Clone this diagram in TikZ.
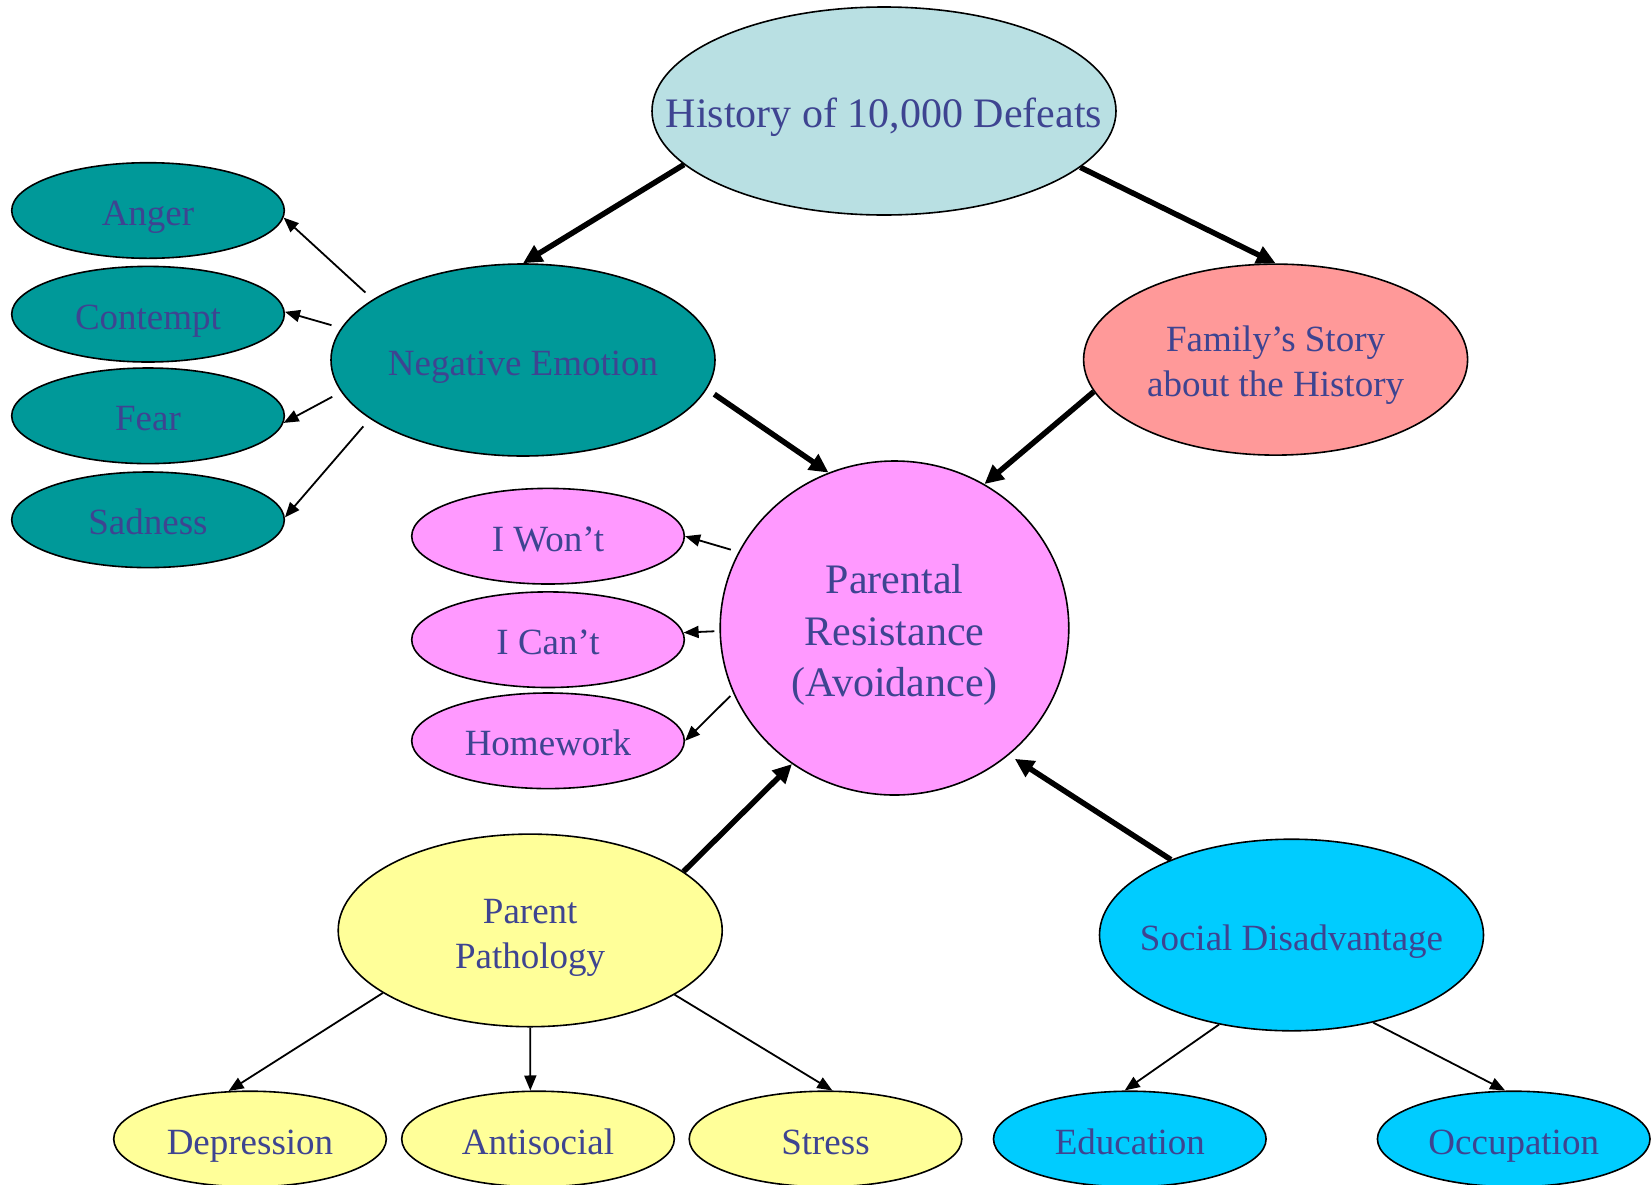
\documentclass[tikz,border=0pt]{standalone}
\usepackage{fontspec}
\setmainfont{Liberation Serif}
\usetikzlibrary{shapes.geometric,arrows.meta}

\definecolor{txtblue}{RGB}{62,68,145}
\definecolor{histblue}{RGB}{185,224,227}
\definecolor{teal1}{RGB}{0,153,153}
\definecolor{salmon1}{RGB}{255,153,153}
\definecolor{pink1}{RGB}{255,153,255}
\definecolor{yellow1}{RGB}{255,255,153}
\definecolor{cyan1}{RGB}{0,204,255}

\begin{document}
\begin{tikzpicture}[x=1pt,y=-1pt,
  bub/.style={ellipse, draw=black, line width=1.6pt, inner sep=0pt},
  bigbub/.style={bub, minimum width=384pt, minimum height=192pt},
  smallbub/.style={bub, minimum width=272.6pt, minimum height=95.6pt},
  lbl/.style={text=txtblue, font=\fontsize{37}{42.6}\selectfont,
    text height=25.9pt, text depth=0pt, inner sep=0pt, yshift=-2.2pt},
  lblbig/.style={text=txtblue, font=\fontsize{42}{50.8}\selectfont,
    text height=29.4pt, text depth=0pt, inner sep=0pt},
  lblm/.style={text=txtblue, align=center, inner sep=0pt},
  thickarr/.style={line width=5.5pt, -{Triangle[length=19pt,width=18pt]}},
  thinarr/.style={line width=1.8pt, -{Triangle[length=15pt,width=12pt]}}]

\useasboundingbox (0,0) rectangle (1651,1184);

% main ellipses
\node[bub, fill=histblue, minimum width=464pt, minimum height=208pt,
  label={[lblbig, yshift=-1.5pt]center:History of 10,000 Defeats}] (hist) at (884,111) {};
\node[bigbub, fill=teal1,
  label={[lbl]center:Negative Emotion}] (neg) at (523,360) {};
\node[bigbub, fill=salmon1, minimum height=191pt,
  label={[lblm, font=\fontsize{37}{44.7}\selectfont, yshift=-5.8pt]center:{Family’s Story\\about the History}}] (fam) at (1275.6,359.6) {};
\node[bub, fill=pink1, minimum width=348.6pt, minimum height=334pt,
  label={[lblm, font=\fontsize{42}{51.3}\selectfont, yshift=-7.1pt]center:{Parental\\Resistance\\(Avoidance)}}] (pr) at (894.5,628) {};
\node[bigbub, fill=yellow1, minimum height=192.6pt,
  label={[lblm, font=\fontsize{37}{44.9}\selectfont, yshift=-7.1pt]center:{Parent\\Pathology}}] (pp) at (530.2,930.4) {};
\node[bigbub, fill=cyan1, minimum height=191.6pt,
  label={[lbl]center:Social Disadvantage}] (sd) at (1291.5,935) {};

% emotions
\node[smallbub, fill=teal1, label={[lbl]center:Anger}] (anger) at (148,210.5) {};
\node[smallbub, fill=teal1, label={[lbl]center:Contempt}] (contempt) at (148,314.2) {};
\node[smallbub, fill=teal1, label={[lbl]center:Fear}] (fear) at (148,415.8) {};
\node[smallbub, fill=teal1, label={[lbl]center:Sadness}] (sadness) at (148,519.8) {};

% forms of resistance
\node[smallbub, fill=pink1, label={[lbl]center:I Won’t}] (wont) at (548,536.2) {};
\node[smallbub, fill=pink1, label={[lbl]center:I Can’t}] (cant) at (548,639.7) {};
\node[smallbub, fill=pink1, label={[lbl]center:Homework}] (hw) at (548,740.8) {};

% pathology and disadvantage factors
\node[smallbub, fill=yellow1, label={[lbl]center:Depression}] (dep) at (250,1139) {};
\node[smallbub, fill=yellow1, label={[lbl]center:Antisocial}] (anti) at (538,1139) {};
\node[smallbub, fill=yellow1, label={[lbl]center:Stress}] (stress) at (825.5,1139) {};
\node[smallbub, fill=cyan1, label={[lbl]center:Education}] (edu) at (1129.8,1139) {};
\node[smallbub, fill=cyan1, label={[lbl]center:Occupation}] (occ) at (1513.7,1139) {};

% main flow
\draw[thickarr] (hist.195.6) -- (neg.90);
\draw[thickarr] (hist.344.6) -- (fam.90);
\draw[thickarr, shorten <=9pt] (neg.351.9) -- (pr.113.2);
\draw[thickarr] (fam.190.8) -- (pr.58);
\draw[thickarr] (pp.21.5) -- (pr.233.4);
\draw[thickarr, shorten >=7pt] (sd.148.1) -- (pr.312);

% emotion branches
\draw[thinarr, shorten <=10pt] (neg.158.1) -- (anger.357);
\draw[thinarr, shorten <=10pt] (neg.170) -- (contempt.1);
\draw[thinarr, shorten <=10pt] (neg.190.4) -- (fear.357);
\draw[thinarr, shorten <=10pt] (neg.201.9) -- (sadness.1);

% resistance branches
\draw[thinarr, shorten <=8pt] (pr.154.9) -- (wont.0);
\draw[thinarr, shorten <=5pt] (pr.181.2) -- (cant.3.4);
\draw[thinarr, shorten <=4pt] (pr.202.9) -- (hw.0);

% factor branches
\draw[thinarr] (pp.203.9) -- (dep.114.7);
\draw[thinarr] (pp.270) -- (anti.99.5);
\draw[thinarr] (pp.336) -- (stress.82.7);
\draw[thinarr] (sd.231.2) -- (edu.96);
\draw[thinarr] (sd.313.3) -- (occ.100.8);

\end{tikzpicture}
\end{document}
